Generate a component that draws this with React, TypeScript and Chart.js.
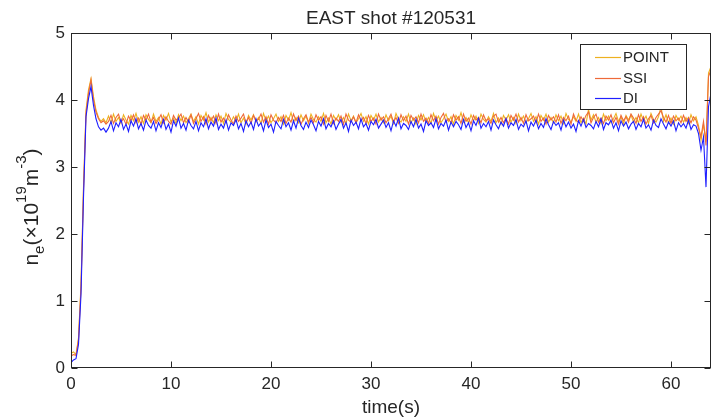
import React, { useEffect, useRef } from "react";
import { Chart, registerables } from "chart.js";

Chart.register(...registerables);

// ---------- data ----------
const TITLE = "EAST shot #120531";
const X_LABEL = "time(s)";
const SERIES_NAMES = ["POINT", "SSI", "DI"];
const SERIES_COLORS = ["#EDB120", "#EE6A3A", "#1F1FFF"];
const X_TICKS = [0, 10, 20, 30, 40, 50, 60];
const Y_TICKS = [0, 1, 2, 3, 4, 5];
const X_MAX = 64;
const Y_MAX = 5;
const T_STEP = 0.25; // seconds between samples, first sample at t = 0

const POINT = [
  0.22, 0.24, 0.20, 0.45, 1.25, 2.70, 3.85, 4.15, 4.32, 4.05, 3.85, 3.74, 3.68, 3.72, 3.66,
  3.76, 3.66, 3.79, 3.68, 3.74, 3.65, 3.78, 3.70, 3.64, 3.77,
  3.69, 3.80, 3.67, 3.75, 3.65, 3.78, 3.71, 3.66, 3.79, 3.68,
  3.74, 3.64, 3.77, 3.70, 3.80, 3.67, 3.73, 3.65, 3.78, 3.69,
  3.76, 3.66, 3.72, 3.79, 3.68, 3.75, 3.64, 3.77, 3.70, 3.81,
  3.67, 3.74, 3.66, 3.78, 3.69, 3.76, 3.65, 3.80, 3.71, 3.67,
  3.75, 3.68, 3.79, 3.66, 3.73, 3.64, 3.77, 3.70, 3.78, 3.67,
  3.74, 3.65, 3.80, 3.69, 3.76, 3.66, 3.72, 3.79, 3.68, 3.75,
  3.64, 3.77, 3.70, 3.81, 3.67, 3.74, 3.66, 3.78, 3.69, 3.76,
  3.65, 3.79, 3.71, 3.67, 3.75, 3.68, 3.80, 3.66, 3.73, 3.64,
  3.77, 3.70, 3.78, 3.67, 3.74, 3.65, 3.79, 3.69, 3.76, 3.66,
  3.72, 3.80, 3.68, 3.75, 3.64, 3.77, 3.70, 3.79, 3.67, 3.74,
  3.66, 3.78, 3.69, 3.76, 3.65, 3.80, 3.71, 3.67, 3.75, 3.68,
  3.79, 3.66, 3.73, 3.64, 3.77, 3.70, 3.78, 3.67, 3.74, 3.65,
  3.80, 3.69, 3.76, 3.66, 3.72, 3.79, 3.68, 3.75, 3.64, 3.77,
  3.70, 3.81, 3.67, 3.74, 3.66, 3.78, 3.69, 3.76, 3.65, 3.79,
  3.71, 3.67, 3.75, 3.68, 3.80, 3.66, 3.73, 3.64, 3.77, 3.70,
  3.78, 3.67, 3.74, 3.65, 3.79, 3.69, 3.76, 3.66, 3.72, 3.80,
  3.68, 3.75, 3.64, 3.77, 3.70, 3.79, 3.67, 3.74, 3.66, 3.78,
  3.69, 3.76, 3.65, 3.80, 3.71, 3.67, 3.75, 3.68, 3.79, 3.66,
  3.73, 3.64, 3.86, 3.70, 3.78, 3.67, 3.74, 3.65, 3.79, 3.69,
  3.76, 3.66, 3.72, 3.80, 3.68, 3.75, 3.64, 3.77, 3.70, 3.78,
  3.67, 3.74, 3.66, 3.79, 3.69, 3.76, 3.65, 3.80, 3.71, 3.67,
  3.75, 3.90, 3.68, 3.78, 3.66, 3.73, 3.64, 3.77, 3.70, 3.76,
  3.67, 3.74, 3.65, 3.78, 3.69, 3.75,
  3.62, 3.40, 3.64, 3.38, 4.40, 4.50, 4.55,
];

const SSI = [
  0.18, 0.20, 0.19, 0.42, 1.20, 2.65, 3.80, 4.10, 4.30, 4.00, 3.82, 3.72, 3.66, 3.69, 3.64,
  3.68, 3.77, 3.65, 3.74, 3.79, 3.67, 3.72, 3.64, 3.76, 3.69,
  3.78, 3.66, 3.73, 3.64, 3.77, 3.70, 3.79, 3.67, 3.74, 3.65,
  3.71, 3.78, 3.66, 3.75, 3.68, 3.64, 3.77, 3.70, 3.73, 3.79,
  3.66, 3.74, 3.67, 3.78, 3.65, 3.72, 3.80, 3.68, 3.75, 3.64,
  3.77, 3.69, 3.76, 3.65, 3.79, 3.67, 3.73, 3.66, 3.78, 3.70,
  3.64, 3.76, 3.68, 3.73, 3.79, 3.66, 3.74, 3.65, 3.77, 3.69,
  3.71, 3.79, 3.67, 3.75, 3.64, 3.78, 3.70, 3.66, 3.74, 3.68,
  3.77, 3.65, 3.73, 3.67, 3.79, 3.69, 3.76, 3.64, 3.72, 3.78,
  3.67, 3.74, 3.66, 3.78, 3.70, 3.75, 3.64, 3.77, 3.68, 3.79,
  3.65, 3.73, 3.68, 3.76, 3.64, 3.79, 3.70, 3.67, 3.75, 3.66,
  3.78, 3.69, 3.74, 3.65, 3.77, 3.68, 3.73, 3.64, 3.79, 3.70,
  3.75, 3.66, 3.72, 3.79, 3.67, 3.74, 3.65, 3.78, 3.69, 3.76,
  3.64, 3.77, 3.70, 3.75, 3.66, 3.79, 3.68, 3.73, 3.65, 3.78,
  3.69, 3.76, 3.64, 3.74, 3.80, 3.67, 3.72, 3.66, 3.78, 3.70,
  3.75, 3.65, 3.79, 3.68, 3.73, 3.64, 3.77, 3.70, 3.74, 3.66,
  3.78, 3.69, 3.72, 3.65, 3.76, 3.79, 3.67, 3.74, 3.66, 3.73,
  3.64, 3.77, 3.70, 3.79, 3.67, 3.74, 3.65, 3.78, 3.69, 3.72,
  3.76, 3.66, 3.79, 3.68, 3.73, 3.64, 3.77, 3.70, 3.75, 3.67,
  3.78, 3.65, 3.74, 3.69, 3.76, 3.64, 3.79, 3.70, 3.67, 3.75,
  3.68, 3.77, 3.82, 3.66, 3.74, 3.79, 3.67, 3.73, 3.65, 3.76,
  3.70, 3.78, 3.66, 3.74, 3.64, 3.77, 3.69, 3.75, 3.67, 3.79,
  3.73, 3.65, 3.78, 3.68, 3.75, 3.64, 3.72, 3.77, 3.66, 3.74,
  3.79, 3.84, 3.74, 3.67, 3.77, 3.65, 3.76, 3.69, 3.73, 3.66,
  3.77, 3.68, 3.74, 3.66, 3.75, 3.70,
  3.58, 3.45, 3.68, 3.32, 4.35, 4.45, 4.50,
];

const DI = [
  0.08, 0.12, 0.14, 0.35, 1.10, 2.55, 3.75, 4.02, 4.20, 3.92, 3.72, 3.60, 3.55, 3.58, 3.52,
  3.58, 3.68, 3.54, 3.66, 3.60, 3.71, 3.56, 3.64, 3.53, 3.69,
  3.61, 3.72, 3.57, 3.65, 3.55, 3.70, 3.62, 3.58, 3.68, 3.54,
  3.66, 3.59, 3.71, 3.56, 3.64, 3.52, 3.69, 3.61, 3.73, 3.58,
  3.65, 3.55, 3.70, 3.62, 3.57, 3.68, 3.54, 3.66, 3.60, 3.72,
  3.57, 3.67, 3.61, 3.73, 3.56, 3.64, 3.58, 3.70, 3.55, 3.66,
  3.62, 3.71, 3.57, 3.65, 3.53, 3.69, 3.60, 3.67, 3.56, 3.72,
  3.61, 3.66, 3.54, 3.70, 3.59, 3.64, 3.52, 3.68, 3.62, 3.57,
  3.71, 3.60, 3.66, 3.55, 3.69, 3.58, 3.73, 3.62, 3.56, 3.67,
  3.59, 3.70, 3.63, 3.54, 3.68, 3.61, 3.72, 3.57, 3.65, 3.60,
  3.69, 3.56, 3.64, 3.71, 3.58, 3.66, 3.53, 3.70, 3.62, 3.67,
  3.57, 3.72, 3.60, 3.65, 3.55, 3.68, 3.63, 3.71, 3.58, 3.64,
  3.70, 3.59, 3.66, 3.54, 3.69, 3.61, 3.73, 3.57, 3.65, 3.62,
  3.56, 3.68, 3.60, 3.71, 3.58, 3.64, 3.53, 3.69, 3.62, 3.66,
  3.59, 3.72, 3.57, 3.65, 3.61, 3.70, 3.55, 3.67, 3.60, 3.68,
  3.63, 3.56, 3.71, 3.59, 3.66, 3.54, 3.69, 3.62, 3.73, 3.58,
  3.65, 3.60, 3.68, 3.55, 3.70, 3.63, 3.57, 3.67, 3.61, 3.72,
  3.58, 3.66, 3.62, 3.71, 3.56, 3.64, 3.60, 3.69, 3.54, 3.67,
  3.61, 3.70, 3.57, 3.65, 3.59, 3.72, 3.63, 3.56, 3.68, 3.62,
  3.66, 3.55, 3.70, 3.60, 3.67, 3.58, 3.64, 3.53, 3.69, 3.61,
  3.71, 3.59, 3.65, 3.62, 3.57, 3.68, 3.60, 3.72, 3.56, 3.66,
  3.63, 3.70, 3.58, 3.66, 3.54, 3.69, 3.61, 3.67, 3.57, 3.64,
  3.68, 3.56, 3.65, 3.60, 3.71, 3.58, 3.63, 3.55, 3.70, 3.62,
  3.59, 3.72, 3.64, 3.57, 3.67, 3.61, 3.69, 3.54, 3.66, 3.60,
  3.65, 3.58, 3.70, 3.56, 3.63, 3.61,
  3.50, 3.25, 3.45, 2.70, 3.90, 4.10, 4.15,
];

const SERIES = [POINT, SSI, DI];

// ---------- styling ----------
const FONT = "'Liberation Sans', Arial, Helvetica, sans-serif";
const AXIS_COLOR = "#262626";
const TEXT_COLOR = "#262626";

const toPoints = (arr: number[]) => arr.map((v, i) => ({ x: i * T_STEP, y: v }));

const decorPlugin = {
  id: "matlabDecor",
  afterDatasetsDraw(chart: any) {
    const { ctx, chartArea: a, scales } = chart;
    const L = Math.round(a.left) + 0.5;
    const R = Math.round(a.right) - 0.5;
    const T = Math.round(a.top) + 0.5;
    const B = Math.round(a.bottom) - 0.5;
    const line = (x1: number, y1: number, x2: number, y2: number) => {
      ctx.beginPath();
      ctx.moveTo(x1, y1);
      ctx.lineTo(x2, y2);
      ctx.stroke();
    };
    ctx.save();
    ctx.strokeStyle = AXIS_COLOR;
    ctx.lineWidth = 1;
    ctx.strokeRect(L, T, R - L, B - T);
    const tl = 6;
    X_TICKS.forEach((v) => {
      const x = Math.round(scales.x.getPixelForValue(v)) + 0.5;
      line(x, B, x, B - tl);
      line(x, T, x, T + tl);
    });
    Y_TICKS.forEach((v) => {
      const y = Math.round(scales.y.getPixelForValue(v)) + 0.5;
      line(L, y, L + tl, y);
      line(R, y, R - tl, y);
    });

    // legend
    const lx = 580.5, ly = 44.5, lw = 106, lh = 65;
    ctx.fillStyle = "#ffffff";
    ctx.fillRect(lx, ly, lw, lh);
    ctx.strokeStyle = AXIS_COLOR;
    ctx.strokeRect(lx, ly, lw, lh);
    const rows = [57, 78, 98];
    ctx.font = `15px ${FONT}`;
    ctx.textBaseline = "middle";
    ctx.textAlign = "left";
    SERIES_NAMES.forEach((name, i) => {
      ctx.strokeStyle = SERIES_COLORS[i];
      ctx.lineWidth = 1.2;
      line(595, rows[i] + 0.5, 621, rows[i] + 0.5);
      ctx.fillStyle = TEXT_COLOR;
      ctx.fillText(name, 623, rows[i] + 1);
    });

    // title
    const cx = (a.left + a.right) / 2;
    ctx.fillStyle = TEXT_COLOR;
    ctx.textAlign = "center";
    ctx.textBaseline = "alphabetic";
    ctx.font = `19px ${FONT}`;
    ctx.fillText(TITLE, cx, 24);

    // x label
    ctx.font = `19px ${FONT}`;
    ctx.fillText(X_LABEL, cx, 413);

    // y label with sub/superscripts
    const parts = [
      { t: "n", s: 21, dy: 0 },
      { t: "e", s: 15, dy: 6 },
      { t: "(\u00D710", s: 21, dy: 0 },
      { t: "19", s: 15, dy: -12 },
      { t: "m", s: 21, dy: 0 },
      { t: "-3", s: 15, dy: -12 },
      { t: ")", s: 21, dy: 0 },
    ];
    let total = 0;
    const widths = parts.map((p) => {
      ctx.font = `${p.s}px ${FONT}`;
      const w = ctx.measureText(p.t).width;
      total += w;
      return w;
    });
    ctx.translate(38, 207);
    ctx.rotate(-Math.PI / 2);
    ctx.textAlign = "left";
    let x = -total / 2;
    parts.forEach((p, i) => {
      ctx.font = `${p.s}px ${FONT}`;
      ctx.fillText(p.t, x, p.dy);
      x += widths[i];
    });
    ctx.restore();
  },
};

export default function App() {
  const ref = useRef<HTMLCanvasElement | null>(null);
  useEffect(() => {
    if (!ref.current) return;
    const chart = new Chart(ref.current, {
      type: "line",
      data: {
        datasets: SERIES.map((arr, i) => ({
          label: SERIES_NAMES[i],
          data: toPoints(arr),
          borderColor: SERIES_COLORS[i],
          backgroundColor: SERIES_COLORS[i],
          borderWidth: 1.1,
          pointRadius: 0,
          tension: 0,
          fill: false,
          order: SERIES.length - i,
        })),
      },
      options: {
        responsive: false,
        animation: false,
        devicePixelRatio: 1,
        layout: { padding: { top: 33, right: 0, left: 0, bottom: 0 } },
        plugins: {
          legend: { display: false },
          title: { display: false },
          tooltip: { enabled: false },
        },
        scales: {
          x: {
            type: "linear",
            min: 0,
            max: X_MAX,
            afterFit: (s: any) => {
              s.height = 50;
            },
            grid: { display: false, drawTicks: false },
            border: { display: false },
            ticks: {
              stepSize: 10,
              includeBounds: false,
              maxRotation: 0,
              padding: 6,
              color: TEXT_COLOR,
              font: { family: FONT, size: 17 },
            },
          },
          y: {
            type: "linear",
            min: 0,
            max: Y_MAX,
            afterFit: (s: any) => {
              s.width = 71;
            },
            grid: { display: false, drawTicks: false },
            border: { display: false },
            ticks: {
              stepSize: 1,
              padding: 6,
              color: TEXT_COLOR,
              font: { family: FONT, size: 17 },
            },
          },
        },
      },
      plugins: [decorPlugin],
    });
    return () => chart.destroy();
  }, []);
  return (
    <div style={{ position: "fixed", left: 0, top: 0, width: 711, height: 418, background: "#fff" }}>
      <canvas ref={ref} width={711} height={418} style={{ display: "block" }} />
    </div>
  );
}
